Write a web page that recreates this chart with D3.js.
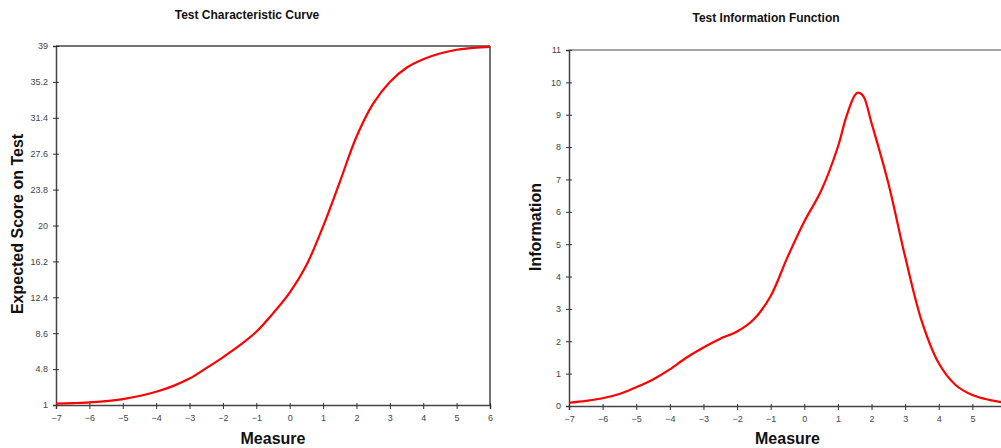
<html>

<head>
    <meta charset="utf-8">
    <title>Test Characteristic Curve / Test Information Function</title>
    <style>
        body { margin: 0; background: #fff; overflow: hidden; }
        text { font-family: Arial, "Liberation Sans", sans-serif; }
    </style>
</head>

<body>
    <script src="https://cdn.jsdelivr.net/npm/d3@7/dist/d3.min.js" charset="utf-8"></script>
    <script>
        // measure (theta) values, sampled every 0.5
        var measure = [-7, -6.5, -6, -5.5, -5, -4.5, -4, -3.5, -3, -2.5, -2, -1.5, -1, -0.5,
            0, 0.5, 1, 1.5, 2, 2.5, 3, 3.5, 4, 4.5, 5, 5.5, 6];
        // expected score on test
        var expectedScore = [1.15, 1.2, 1.27, 1.42, 1.63, 1.95, 2.4, 3.0, 3.8, 4.9, 6.05, 7.3, 8.75, 10.7,
            12.9, 15.8, 19.9, 24.6, 29.4, 32.9, 35.2, 36.7, 37.6, 38.2, 38.6, 38.8, 38.9];
        // information, finer sampling near the peak
        var infoMeasure = [-7, -6.5, -6, -5.5, -5, -4.5, -4, -3.5, -3, -2.5, -2, -1.5, -1, -0.5,
            0, 0.5, 1, 1.25, 1.5, 1.6, 1.75, 2, 2.5, 3, 3.5, 4, 4.5, 5, 5.5, 6];
        var information = [0.1, 0.16, 0.24, 0.37, 0.58, 0.82, 1.13, 1.5, 1.81, 2.08, 2.3, 2.68, 3.4, 4.6,
            5.7, 6.65, 8.01, 8.94, 9.6, 9.68, 9.58, 8.74, 6.88, 4.61, 2.6, 1.32, 0.65, 0.34, 0.19, 0.1];

        var tccTicksY = [1, 4.8, 8.6, 12.4, 16.2, 20, 23.8, 27.6, 31.4, 35.2, 39];
        var tifTicksY = [0, 1, 2, 3, 4, 5, 6, 7, 8, 9, 10, 11];
        var tccTicksX = [-7, -6, -5, -4, -3, -2, -1, 0, 1, 2, 3, 4, 5, 6];
        var tifTicksX = [-7, -6, -5, -4, -3, -2, -1, 0, 1, 2, 3, 4, 5];

        var svg = d3.select("body")
            .append("svg")
            .attr("width", 1001)
            .attr("height", 448);

        function drawChart(opt) {
            var x = d3.scaleLinear().domain([-7, 6]).range([opt.left, opt.right]);
            var y = d3.scaleLinear().domain(opt.yDomain).range([opt.bottom, opt.top]);
            var g = svg.append("g");

            // title
            g.append("text")
                .attr("x", opt.titleX).attr("y", opt.titleY)
                .attr("text-anchor", "middle")
                .attr("font-size", 12).attr("font-weight", "bold")
                .attr("fill", "#111")
                .text(opt.title);

            // frame (top & right)
            g.append("line")
                .attr("x1", opt.left).attr("x2", opt.right)
                .attr("y1", opt.top).attr("y2", opt.top)
                .attr("stroke", opt.frameColor).attr("stroke-width", 1.5);
            g.append("line")
                .attr("x1", opt.right).attr("x2", opt.right)
                .attr("y1", opt.top).attr("y2", opt.bottom)
                .attr("stroke", opt.frameColor).attr("stroke-width", 1.5);

            // y axis
            var ya = g.append("g")
                .attr("transform", "translate(" + opt.left + ",0)")
                .call(d3.axisLeft(y).tickValues(opt.yTicks).tickSize(3).tickPadding(5)
                    .tickFormat(d3.format("")));
            ya.selectAll(".tick line").attr("x1", 3).attr("stroke", "#333");
            ya.select(".domain").attr("stroke", "#444").attr("stroke-width", 1.5);
            ya.selectAll("text").attr("font-size", 9).attr("fill", "#444");

            // x axis
            var xa = g.append("g")
                .attr("transform", "translate(0," + opt.bottom + ")")
                .call(d3.axisBottom(x).tickValues(opt.xTicks).tickSize(4).tickPadding(6));
            xa.selectAll(".tick line").attr("y1", -2).attr("stroke", "#333");
            xa.select(".domain").attr("stroke", "#444").attr("stroke-width", 1.5);
            xa.selectAll("text").attr("font-size", 9).attr("fill", "#444");

            // axis titles
            g.append("text")
                .attr("x", (opt.left + opt.right) / 2).attr("y", 444)
                .attr("text-anchor", "middle")
                .attr("font-size", 16).attr("font-weight", "bold")
                .attr("fill", "#111")
                .text("Measure");
            g.append("text")
                .attr("transform", "translate(" + opt.yTitleX + "," + opt.yTitleY + ") rotate(-90)")
                .attr("text-anchor", "middle")
                .attr("font-size", 16).attr("font-weight", "bold")
                .attr("fill", "#111")
                .text(opt.yTitle);

            // curve
            var line = d3.line()
                .x(function (d, i) { return x(opt.xs[i]); })
                .y(function (d) { return y(d); })
                .curve(d3.curveCatmullRom.alpha(0.5));
            g.append("path")
                .datum(opt.ys)
                .attr("d", line)
                .attr("fill", "none")
                .attr("stroke", "#ff0000")
                .attr("stroke-width", 2.2);
        }

        drawChart({
            title: "Test Characteristic Curve", titleX: 247, titleY: 19,
            left: 56, right: 490, top: 46, bottom: 405,
            yDomain: [1, 39], yTicks: tccTicksY, xTicks: tccTicksX,
            yTitle: "Expected Score on Test", yTitleX: 23, yTitleY: 224,
            frameColor: "#444",
            xs: measure, ys: expectedScore
        });

        drawChart({
            title: "Test Information Function", titleX: 766, titleY: 22,
            left: 569, right: 1006, top: 50, bottom: 406,
            yDomain: [0, 11], yTicks: tifTicksY, xTicks: tifTicksX,
            yTitle: "Information", yTitleX: 541, yTitleY: 227,
            frameColor: "#888",
            xs: infoMeasure, ys: information
        });
    </script>
</body>

</html>
